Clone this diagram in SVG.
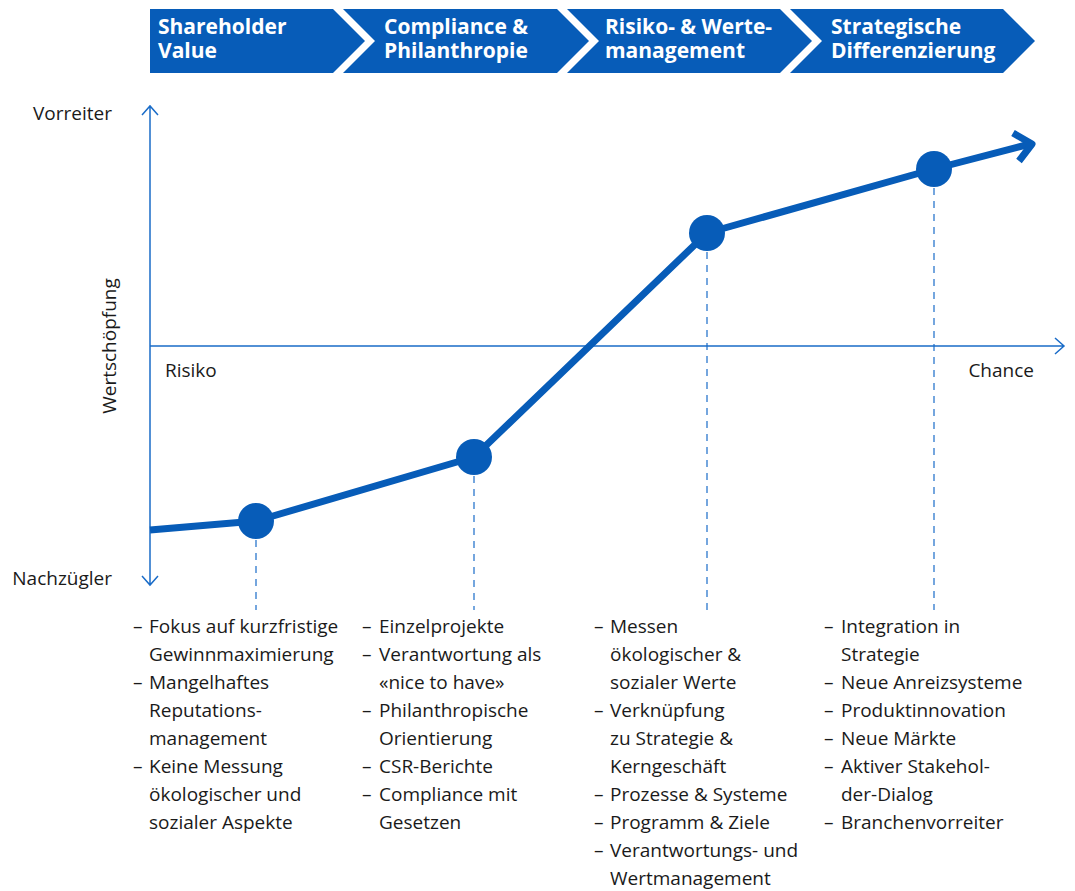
<svg xmlns="http://www.w3.org/2000/svg" width="1075" height="891" viewBox="0 0 1075 891">
<style>
.hdr{fill:#075cb8}
.ht{font-family:"Open Sans","Noto Sans",sans-serif;font-weight:bold;font-size:21px;fill:#fff}
.ax{stroke:#1a6cc8;stroke-width:1.5;fill:none}
.dash{stroke:#1a6cc8;stroke-width:1.2;stroke-dasharray:7 6;fill:none}
.lbl{font-family:"Open Sans","Noto Sans",sans-serif;font-size:19px;fill:#1a1a1a}
.main{stroke:#075cb8;stroke-width:7;fill:none;stroke-linejoin:round}
.dot{fill:#075cb8}
</style>
<rect width="1075" height="891" fill="#fff"/>
<g id="header">
<g id="phase1"><polygon class="hdr" points="150,9 333,9 365,41 333,73 150,73"/><text class="ht" x="158" y="34">Shareholder</text><text class="ht" x="158" y="58">Value</text></g>
<g id="phase2"><polygon class="hdr" points="343,9 557,9 589,41 557,73 343,73 375,41"/><text class="ht" x="384" y="34">Compliance &amp;</text><text class="ht" x="384" y="58">Philanthropie</text></g>
<g id="phase3"><polygon class="hdr" points="567,9 780,9 812,41 780,73 567,73 599,41"/><text class="ht" x="605" y="34">Risiko- &amp; Werte-</text><text class="ht" x="605" y="58">management</text></g>
<g id="phase4"><polygon class="hdr" points="790,9 1003,9 1035,41 1003,73 790,73 822,41"/><text class="ht" x="831" y="34">Strategische</text><text class="ht" x="831" y="58">Differenzierung</text></g>
</g>
<g id="axes">
<path class="ax" d="M150,107 V584 M142,115 L150,106 L158,115 M142,576 L150,585 L158,576"/>
<path class="ax" d="M150,346 H1064 M1055,338 L1064,346 L1055,354"/>
<text class="lbl" x="112" y="120" text-anchor="end">Vorreiter</text>
<text class="lbl" x="112" y="585" text-anchor="end">Nachzügler</text>
<text class="lbl" transform="translate(116,346) rotate(-90)" text-anchor="middle">Wertschöpfung</text>
<text class="lbl" x="165" y="377">Risiko</text>
<text class="lbl" x="1034" y="377" text-anchor="end">Chance</text>
</g>
<g id="connectors">
<path class="dash" d="M256,540 V610"/>
<path class="dash" d="M474,476 V610"/>
<path class="dash" d="M707,252 V610"/>
<path class="dash" d="M934,188 V610"/>
<path class="main" d="M150,530 L256,521 L474,457 L707,233 L934,169 L1030,144"/>
<path class="main" d="M1013,133 L1032,144 L1019,161" stroke-linejoin="miter"/>
</g>
<g id="n1"><circle class="dot" cx="256" cy="521" r="18"/>
<text class="lbl"><tspan x="133" y="633">–</tspan><tspan x="149" y="633">Fokus auf kurzfristige</tspan><tspan x="149" y="661">Gewinnmaximierung</tspan><tspan x="133" y="689">–</tspan><tspan x="149" y="689">Mangelhaftes</tspan><tspan x="149" y="717">Reputations-</tspan><tspan x="149" y="745">management</tspan><tspan x="133" y="773">–</tspan><tspan x="149" y="773">Keine Messung</tspan><tspan x="149" y="801">ökologischer und</tspan><tspan x="149" y="829">sozialer Aspekte</tspan></text></g>
<g id="n2"><circle class="dot" cx="474" cy="457" r="18"/>
<text class="lbl"><tspan x="362" y="633">–</tspan><tspan x="379" y="633">Einzelprojekte</tspan><tspan x="362" y="661">–</tspan><tspan x="379" y="661">Verantwortung als</tspan><tspan x="379" y="689">«nice to have»</tspan><tspan x="362" y="717">–</tspan><tspan x="379" y="717">Philanthropische</tspan><tspan x="379" y="745">Orientierung</tspan><tspan x="362" y="773">–</tspan><tspan x="379" y="773">CSR-Berichte</tspan><tspan x="362" y="801">–</tspan><tspan x="379" y="801">Compliance mit</tspan><tspan x="379" y="829">Gesetzen</tspan></text></g>
<g id="n3"><circle class="dot" cx="707" cy="233" r="18"/>
<text class="lbl"><tspan x="594" y="633">–</tspan><tspan x="610" y="633">Messen</tspan><tspan x="610" y="661">ökologischer &amp;</tspan><tspan x="610" y="689">sozialer Werte</tspan><tspan x="594" y="717">–</tspan><tspan x="610" y="717">Verknüpfung</tspan><tspan x="610" y="745">zu Strategie &amp;</tspan><tspan x="610" y="773">Kerngeschäft</tspan><tspan x="594" y="801">–</tspan><tspan x="610" y="801">Prozesse &amp; Systeme</tspan><tspan x="594" y="829">–</tspan><tspan x="610" y="829">Programm &amp; Ziele</tspan><tspan x="594" y="857">–</tspan><tspan x="610" y="857">Verantwortungs- und</tspan><tspan x="610" y="885">Wertmanagement</tspan></text></g>
<g id="n4"><circle class="dot" cx="934" cy="169" r="18"/>
<text class="lbl"><tspan x="824" y="633">–</tspan><tspan x="841" y="633">Integration in</tspan><tspan x="841" y="661">Strategie</tspan><tspan x="824" y="689">–</tspan><tspan x="841" y="689">Neue Anreizsysteme</tspan><tspan x="824" y="717">–</tspan><tspan x="841" y="717">Produktinnovation</tspan><tspan x="824" y="745">–</tspan><tspan x="841" y="745">Neue Märkte</tspan><tspan x="824" y="773">–</tspan><tspan x="841" y="773">Aktiver Stakehol-</tspan><tspan x="841" y="801">der-Dialog</tspan><tspan x="824" y="829">–</tspan><tspan x="841" y="829">Branchenvorreiter</tspan></text></g>
</svg>
